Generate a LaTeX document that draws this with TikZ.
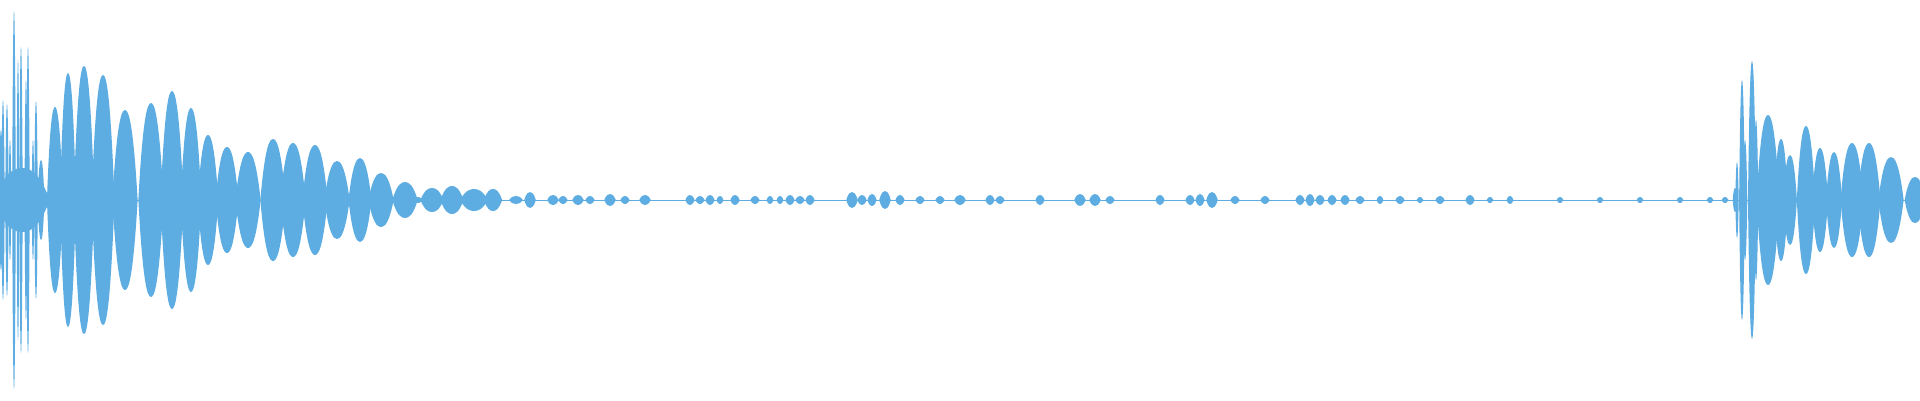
\documentclass[tikz,border=0pt]{standalone}
\definecolor{wave}{HTML}{5DADE2}
\begin{document}
\begin{tikzpicture}[x=1pt,y=-1pt]
\useasboundingbox (0,0) rectangle (1920,400);
\tikzset{blobfill/.style={fill=wave}}
\draw[wave,line width=1pt] (0,200) -- (1920,200);
\foreach \x/\v/\a in {
 22/24/32, 1/2/70, 3/1.5/100, 7/1.5/96, 10/1.2/60, 14/1.6/189, 18/1.2/140, 21/1.5/153, 26/1.3/120, 28/1.5/153, 33/1.2/60, 36/1.6/99, 41/3/40,
 55/7/93, 68/7/127, 84/9/134, 103/10/125, 125/11/90, 151/11/97, 172/10/109, 191/9/92,
 208/9/65, 227/10/53, 248/11/48, 273/11/61, 293/11/57, 315/11/55, 337/11/39, 360/10/42,
 381/11/27, 405/11/18, 418/4/3, 432/10/12, 452/10/14, 474/12/11, 493/8/11, 516/6/4, 530/5/8,
 553/5/5, 563/4/4, 578/5/5, 590/4/4, 610/5/6, 625/4/4, 645/5/5, 690/4/5, 700/4/4, 710/4/5, 720/3/4, 735/4/5, 755/4/4,
 770/3/4, 780/3/4, 790/4/5, 800/4/4, 810/4/5, 852/5/8, 862/4/5, 872/4/6, 885/5/9, 900/4/5, 920/4/4, 940/4/4, 960/5/5, 990/4/5, 1000/4/4,
 1040/4/5, 1080/5/6, 1095/5/6, 1110/4/4, 1160/4/5, 1190/4/5, 1200/4/6, 1212/5/8, 1235/4/4, 1265/4/4, 1300/4/5, 1310/4/6, 1320/4/5,
 1332/4/5, 1345/4/5, 1360/4/4, 1380/3/4, 1400/4/4, 1420/3/3, 1440/4/4, 1470/4/5, 1490/3/3, 1510/3/4, 1560/3/3, 1600/3/3, 1640/3/3, 1680/3/3, 1710/3/3, 1725/3/3,
 1735/2/12, 1737/1.5/38, 1742/2.5/120, 1745/2/60, 1752/3.5/139, 1756/2/80, 1768/10/85, 1781/6/61, 1790/6/45, 1806/8/74, 1820/7/52, 1834/7/48,
 1852/10/57, 1869/10/57, 1891/11/43, 1915/9/23}{
 \pgfmathsetmacro{\w}{\v*1.15}
 \fill[blobfill] ({\x-\w},200) .. controls ({\x-0.65*\w},{200-0.85*\a}) and ({\x-0.3*\w},{200-\a}) .. (\x,{200-\a})
   .. controls ({\x+0.3*\w},{200-\a}) and ({\x+0.65*\w},{200-0.85*\a}) .. ({\x+\w},200)
   .. controls ({\x+0.65*\w},{200+0.85*\a}) and ({\x+0.3*\w},{200+\a}) .. (\x,{200+\a})
   .. controls ({\x-0.3*\w},{200+\a}) and ({\x-0.65*\w},{200+0.85*\a}) .. cycle;
}
\end{tikzpicture}
\end{document}
